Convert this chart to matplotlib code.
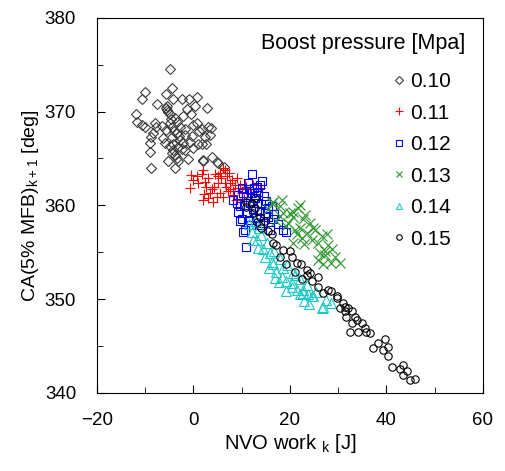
import matplotlib
matplotlib.use("Agg")
import matplotlib.pyplot as plt
import numpy as np

plt.rcParams["font.family"] = ["Liberation Sans", "DejaVu Sans"]
plt.rcParams["mathtext.fontset"] = "custom"
plt.rcParams["mathtext.rm"] = "Liberation Sans"

# (NVO work_k [J], CA(5% MFB)_k+1 [deg]), one list per boost pressure
bp_010 = [(-4.8, 374.6), (-10.1, 372.1), (-10.7, 371.4), (-4.5, 372.5), (-5.6, 371.9), (-4.2, 371.3),
          (-2.4, 371.3), (-0.9, 371.3), (0.7, 371.6), (2.9, 370.4), (-7.5, 370.8), (-5.7, 370.4),
          (-11.9, 369.7), (-11.8, 368.9), (-10.7, 368.6), (-10.1, 368.4), (-8.0, 368.8), (-7.8, 368.4),
          (-4.9, 369.7), (-2.1, 369.5), (-0.4, 369.7), (0.7, 368.8), (0.0, 368.6), (1.7, 368.1),
          (3.1, 368.4), (3.4, 367.5), (2.4, 367.3), (-1.8, 368.1), (-1.8, 367.5), (-8.3, 367.7),
          (-8.7, 367.3), (-9.0, 366.6), (-6.3, 367.2), (-5.9, 366.6), (-4.5, 367.3), (-3.5, 367.7),
          (-2.8, 367.0), (-2.1, 366.6), (-0.7, 366.8), (1.0, 366.5), (1.7, 366.5), (2.7, 366.5),
          (0.0, 366.1), (-1.8, 365.9), (-4.2, 365.9), (-4.9, 366.3), (-9.0, 365.7), (-3.8, 365.4),
          (-3.5, 365.0), (-5.2, 364.7), (-3.2, 364.7), (2.0, 364.7), (-3.8, 364.0), (-8.7, 364.0),
          (-4.9, 368.8), (-4.5, 368.4), (-3.5, 368.9), (-5.2, 370.0), (-2.8, 368.4), (-4.2, 366.5),
          (-4.4, 365.6), (-5.4, 370.6), (-5.5, 370.2), (-4.6, 369.2), (-4.0, 367.9), (-3.2, 366.2),
          (-3.0, 367.4), (-2.4, 366.0), (-0.3, 367.4), (1.2, 367.9), (3.8, 365.2), (4.9, 364.6),
          (2.0, 364.8), (5.1, 364.5), (-1.1, 364.9), (6.3, 364.1), (-5.6, 368.0), (-6.6, 368.5),
          (-3.9, 369.3), (0.3, 370.6), (-1.4, 370.3), (3.6, 368.2)]
bp_011 = [(0.7, 363.1), (2.0, 363.8), (1.7, 363.3), (2.4, 362.5), (1.0, 362.4), (2.7, 362.0),
          (3.8, 361.7), (1.9, 360.6), (4.1, 360.4), (4.5, 363.3), (5.5, 363.4), (6.2, 364.0),
          (5.8, 362.9), (6.9, 363.1), (5.1, 362.4), (6.5, 362.4), (7.6, 362.4), (8.6, 362.2),
          (7.6, 361.7), (5.5, 361.3), (6.2, 360.9), (8.3, 361.5), (9.3, 361.8), (10.7, 362.2),
          (10.0, 361.3), (11.0, 361.8), (4.8, 360.9), (3.4, 361.3), (3.1, 360.8), (5.1, 363.1),
          (6.5, 363.8), (7.9, 362.7), (9.6, 362.2), (11.0, 362.0), (12.4, 362.2), (13.8, 361.8),
          (7.2, 361.5), (8.3, 361.1), (0.0, 362.7), (-0.7, 361.9), (3.0, 362.9), (4.2, 362.0),
          (6.8, 362.0), (9.0, 362.9), (7.4, 363.4), (2.2, 361.2), (-0.5, 363.2), (10.4, 360.7),
          (12.0, 361.2), (8.8, 360.6)]
bp_012 = [(12.1, 363.3), (13.8, 362.2), (8.3, 360.6), (9.3, 361.1), (10.3, 361.3), (11.0, 360.9),
          (12.1, 361.3), (12.7, 360.8), (13.1, 360.2), (9.6, 359.9), (9.3, 359.3), (10.0, 358.5),
          (9.6, 358.3), (10.7, 357.4), (11.0, 355.6), (14.8, 359.2), (15.5, 359.7), (16.5, 358.5),
          (19.3, 357.2), (13.1, 362.0), (14.1, 360.1), (15.5, 358.8), (14.5, 358.1), (10.3, 357.2),
          (16.2, 359.9), (18.6, 357.4), (11.5, 361.7), (12.6, 361.9), (13.4, 361.4), (14.6, 361.0),
          (11.8, 360.3), (12.3, 359.6), (13.7, 359.4), (10.5, 360.0), (11.2, 359.2), (12.9, 358.7),
          (13.9, 357.9), (15.0, 360.5), (16.8, 359.1), (17.5, 358.0), (11.6, 358.4), (10.1, 361.9),
          (14.2, 362.6), (12.0, 357.9), (9.0, 360.3), (15.8, 357.4), (11.3, 362.4)]
bp_013 = [(16.2, 360.2), (17.9, 359.9), (20.0, 359.2), (21.7, 359.7), (20.7, 358.8), (22.8, 358.5),
          (24.1, 358.1), (25.2, 357.4), (23.5, 357.0), (26.6, 356.7), (27.6, 356.9), (22.1, 357.6),
          (19.3, 357.8), (21.4, 356.9), (24.5, 356.3), (25.9, 356.0), (26.2, 354.9), (27.3, 354.7),
          (18.6, 359.2), (17.2, 358.3), (27.3, 355.1), (27.9, 355.8), (30.4, 353.8), (28.6, 353.8),
          (25.9, 354.2), (26.9, 353.7), (20.7, 356.0), (16.5, 360.4), (20.7, 359.3), (22.1, 360.0),
          (18.4, 360.6), (23.2, 359.0), (24.8, 357.6), (19.6, 358.1), (21.0, 357.4), (28.8, 355.3),
          (29.4, 354.5), (23.0, 355.9), (18.0, 358.9), (15.5, 359.6), (22.5, 356.5)]
bp_014 = [(14.5, 355.3), (15.9, 354.9), (16.5, 353.7), (17.2, 352.9), (18.3, 352.4), (19.3, 351.9),
          (20.4, 351.3), (21.4, 351.0), (22.8, 350.6), (23.8, 350.5), (24.5, 350.3), (26.6, 349.0),
          (28.6, 349.6), (18.6, 353.3), (20.7, 352.8), (22.1, 352.1), (23.5, 351.5), (20.4, 351.7),
          (22.8, 351.0), (24.8, 350.3), (26.9, 349.2), (12.4, 356.3), (13.4, 355.5), (14.8, 354.5),
          (16.2, 354.0), (17.0, 352.3), (19.2, 350.9), (12.1, 357.2), (13.1, 356.3), (11.5, 358.0),
          (13.5, 357.6), (14.0, 356.8), (15.2, 356.0), (16.8, 355.1), (18.0, 354.3), (19.5, 353.6),
          (21.0, 352.6), (22.0, 350.5), (25.5, 350.8), (27.5, 349.9), (15.6, 353.3), (17.8, 351.8),
          (23.0, 349.8), (24.0, 349.5), (12.8, 358.3)]
bp_015 = [(11.0, 360.4), (12.1, 360.2), (12.7, 359.7), (11.0, 359.8), (12.4, 359.2), (13.8, 358.8),
          (14.8, 358.3), (16.2, 356.9), (17.2, 355.8), (17.9, 354.5), (19.3, 353.7), (21.0, 352.9),
          (22.4, 353.7), (23.5, 352.6), (16.5, 356.0), (20.4, 354.5), (21.4, 353.8), (23.5, 353.1),
          (24.1, 352.8), (25.9, 352.4), (25.9, 351.3), (27.9, 351.0), (29.7, 350.1), (31.0, 349.6),
          (31.4, 348.7), (24.5, 351.9), (29.7, 350.3), (31.4, 349.2), (32.1, 349.0), (32.8, 348.7),
          (31.7, 348.1), (33.5, 348.1), (32.8, 347.4), (34.9, 347.4), (35.5, 346.9), (36.6, 346.4),
          (32.4, 346.5), (34.2, 346.5), (35.8, 346.5), (37.3, 344.8), (38.3, 345.3), (39.7, 345.7),
          (39.3, 344.6), (40.4, 344.9), (40.4, 343.9), (41.1, 342.8), (42.8, 342.5), (43.5, 343.0),
          (44.2, 342.3), (44.9, 341.4), (45.9, 341.5), (43.5, 341.9), (18.6, 355.2), (20.0, 355.1),
          (14.0, 357.6), (13.2, 358.2), (15.4, 357.3), (12.8, 360.8), (22.6, 352.1), (26.8, 350.6),
          (28.5, 350.9), (33.9, 347.8), (30.3, 349.0)]

labels = ["0.10", "0.11", "0.12", "0.13", "0.14", "0.15"]
series = [bp_010, bp_011, bp_012, bp_013, bp_014, bp_015]
styles = [("D", "#3c3c3c", 5), ("+", "#ff0000", 7.5), ("s", "#0000ff", 6),
          ("x", "#2e962e", 6.5), ("^", "#1ec8c8", 6.5), ("o", "#000000", 5.3)]

fig = plt.figure(figsize=(5.05, 4.71), dpi=100)
ax = fig.add_axes([0.192, 0.166, 0.764, 0.796])

for pts, lab, (m, c, ms) in zip(series, labels, styles):
    a = np.array(pts)
    ax.plot(a[:, 0], a[:, 1], ls="none", marker=m, ms=ms, mfc="none", mec=c, mew=0.8, label=lab)

ax.set_xlim(-20, 60)
ax.set_ylim(340, 380)
ax.set_xticks([-20, 0, 20, 40, 60])
ax.set_yticks([340, 350, 360, 370, 380])
ax.set_xticks([-10, 10, 30, 50], minor=True)
ax.set_yticks([345, 355, 365, 375], minor=True)
ax.tick_params(which="both", direction="in", labelsize=13.5)
ax.tick_params(axis="x", which="both", pad=14)
ax.tick_params(axis="y", which="both", pad=15)
ax.tick_params(which="major", length=6)
ax.tick_params(which="minor", length=4)
for sp in ax.spines.values():
    sp.set_linewidth(0.8)

ax.set_xlabel(r"NVO work $_\mathregular{k}$ [J]", fontsize=14.5, labelpad=2)
ax.set_ylabel(r"CA(5% MFB)$_\mathregular{k+1}$ [deg]", fontsize=14, labelpad=3)

ax.text(0.955, 0.932, "Boost pressure [Mpa]", transform=ax.transAxes, ha="right", va="center", fontsize=15.5)
leg = ax.legend(loc="upper right", bbox_to_anchor=(0.965, 0.905), frameon=False, fontsize=15,
                handlelength=0.6, handletextpad=0.2, labelspacing=0.6, markerscale=0.75)

fig.savefig("out.png", dpi=100)
